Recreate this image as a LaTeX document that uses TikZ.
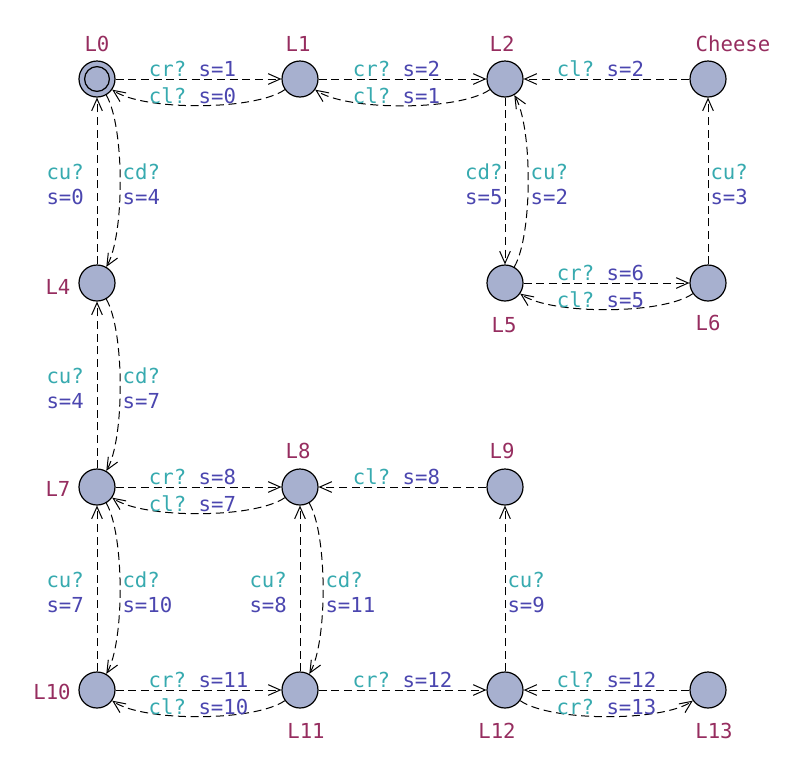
\documentclass[tikz,border=0pt]{standalone}
\usepackage{fontspec}
\setmonofont{DejaVu Sans Mono}
\usetikzlibrary{arrows.meta}

\definecolor{locfill}{RGB}{167,176,207}
\definecolor{namecol}{RGB}{150,45,95}
\definecolor{synccol}{RGB}{55,170,175}
\definecolor{updcol}{RGB}{75,70,175}
\newcommand{\syn}[1]{\textcolor{synccol}{#1}}
\newcommand{\upd}[1]{\textcolor{updcol}{#1}}

\begin{document}
\begin{tikzpicture}[x=0.75pt, y=-0.75pt,
			>={Straight Barb[length=9pt, width=8pt]},
			font=\ttfamily\fontsize{15.5}{18.75}\selectfont,
			loc/.style={circle, draw, line width=0.9pt, fill=locfill, minimum size=27pt, inner sep=0pt},
			initloc/.style={loc, path picture={\draw[line width=0.9pt] (path picture bounding box.center) circle (9.3pt);}},
			locname/.style={text=namecol, inner sep=0pt},
			trans/.style={->, dash pattern=on 6pt off 3.5pt, line width=0.75pt},
			guard/.style={inner sep=1.5pt, text depth=0pt, align=left},
			vguard/.style={guard, yshift=-2.5pt},
			short/.style={xshift=-4.5pt},
			back/.style={looseness=0.55}
			]
			\useasboundingbox (0,0) rectangle (789,768);
			
			% Locations
			\node[initloc] (L0) at (97,79) {};
			\node[loc] (L1) at (300,79) {};
			\node[loc] (L2) at (505,79) {};
			\node[loc] (Cheese) at (708,79) {};
			\node[loc] (L4) at (97,283) {};
			\node[loc] (L5) at (505,283) {};
			\node[loc] (L6) at (708,283) {};
			\node[loc] (L7) at (97,487) {};
			\node[loc] (L8) at (300,487) {};
			\node[loc] (L9) at (505,487) {};
			\node[loc] (L10) at (97,690) {};
			\node[loc] (L11) at (300,690) {};
			\node[loc] (L12) at (505,690) {};
			\node[loc] (L13) at (708,690) {};
			
			% Location names
			\node[locname] (nL0) at (97,44) {L0};
			\node[locname] (nL1) at (298,44) {L1};
			\node[locname] (nL2) at (502,44) {L2};
			\node[locname] (nCheese) at (733,44) {Cheese};
			\node[locname] (nL4) at (58,287) {L4};
			\node[locname] (nL5) at (504,325) {L5};
			\node[locname] (nL6) at (708,323) {L6};
			\node[locname] (nL7) at (58,489) {L7};
			\node[locname] (nL8) at (298,451) {L8};
			\node[locname] (nL9) at (502,451) {L9};
			\node[locname] (nL10) at (52,692) {L10};
			\node[locname] (nL11) at (306,731) {L11};
			\node[locname] (nL12) at (497,731) {L12};
			\node[locname] (nL13) at (714,731) {L13};
			
			% Top row
			\draw[trans] (L0) -- node[guard, above, short] {\syn{cr?} \upd{s=1}} (L1);
			\draw[trans] (L1) to[out=-145, in=-35, back] node[guard, above, short] {\syn{cl?} \upd{s=0}} (L0);
			\draw[trans] (L1) -- node[guard, above, short] {\syn{cr?} \upd{s=2}} (L2);
			\draw[trans] (L2) to[out=-145, in=-35, back] node[guard, above, short] {\syn{cl?} \upd{s=1}} (L1);
			\draw[trans] (Cheese) -- node[guard, above, short] {\syn{cl?} \upd{s=2}} (L2);
			
			% L0 - L4 - L7 - L10
			\draw[trans] (L4) -- node[vguard, left=8pt] {\syn{cu?}\\\upd{s=0}} (L0);
			\draw[trans] (L0) to[out=-60, in=60, back] node[vguard, right] {\syn{cd?}\\\upd{s=4}} (L4);
			\draw[trans] (L7) -- node[vguard, left=8pt] {\syn{cu?}\\\upd{s=4}} (L4);
			\draw[trans] (L4) to[out=-60, in=60, back] node[vguard, right] {\syn{cd?}\\\upd{s=7}} (L7);
			\draw[trans] (L10) -- node[vguard, left=8pt] {\syn{cu?}\\\upd{s=7}} (L7);
			\draw[trans] (L7) to[out=-60, in=60, back] node[vguard, right] {\syn{cd?}\\\upd{s=10}} (L10);
			
			% L2 - L5 - L6 - Cheese
			\draw[trans] (L2) -- node[vguard, left] {\syn{cd?}\\\upd{s=5}} (L5);
			\draw[trans] (L5) to[out=60, in=-60, back] node[vguard, right] {\syn{cu?}\\\upd{s=2}} (L2);
			\draw[trans] (L5) -- node[guard, above, short] {\syn{cr?} \upd{s=6}} (L6);
			\draw[trans] (L6) to[out=-145, in=-35, back] node[guard, above, short] {\syn{cl?} \upd{s=5}} (L5);
			\draw[trans] (L6) -- node[vguard, right] {\syn{cu?}\\\upd{s=3}} (Cheese);
			
			% L7 - L8 - L9
			\draw[trans] (L7) -- node[guard, above, short] {\syn{cr?} \upd{s=8}} (L8);
			\draw[trans] (L8) to[out=-145, in=-35, back] node[guard, above, short] {\syn{cl?} \upd{s=7}} (L7);
			\draw[trans] (L9) -- node[guard, above, short] {\syn{cl?} \upd{s=8}} (L8);
			\draw[trans] (L11) -- node[vguard, left=8pt] {\syn{cu?}\\\upd{s=8}} (L8);
			\draw[trans] (L8) to[out=-60, in=60, back] node[vguard, right] {\syn{cd?}\\\upd{s=11}} (L11);
			\draw[trans] (L12) -- node[vguard, right] {\syn{cu?}\\\upd{s=9}} (L9);
			
			% Bottom row
			\draw[trans] (L10) -- node[guard, above] {\syn{cr?} \upd{s=11}} (L11);
			\draw[trans] (L11) to[out=-145, in=-35, back] node[guard, above] {\syn{cl?} \upd{s=10}} (L10);
			\draw[trans] (L11) -- node[guard, above] {\syn{cr?} \upd{s=12}} (L12);
			\draw[trans] (L13) -- node[guard, above] {\syn{cl?} \upd{s=12}} (L12);
			\draw[trans] (L12) to[out=-35, in=-145, back] node[guard, above] {\syn{cr?} \upd{s=13}} (L13);
			
		\end{tikzpicture}
\end{document}
